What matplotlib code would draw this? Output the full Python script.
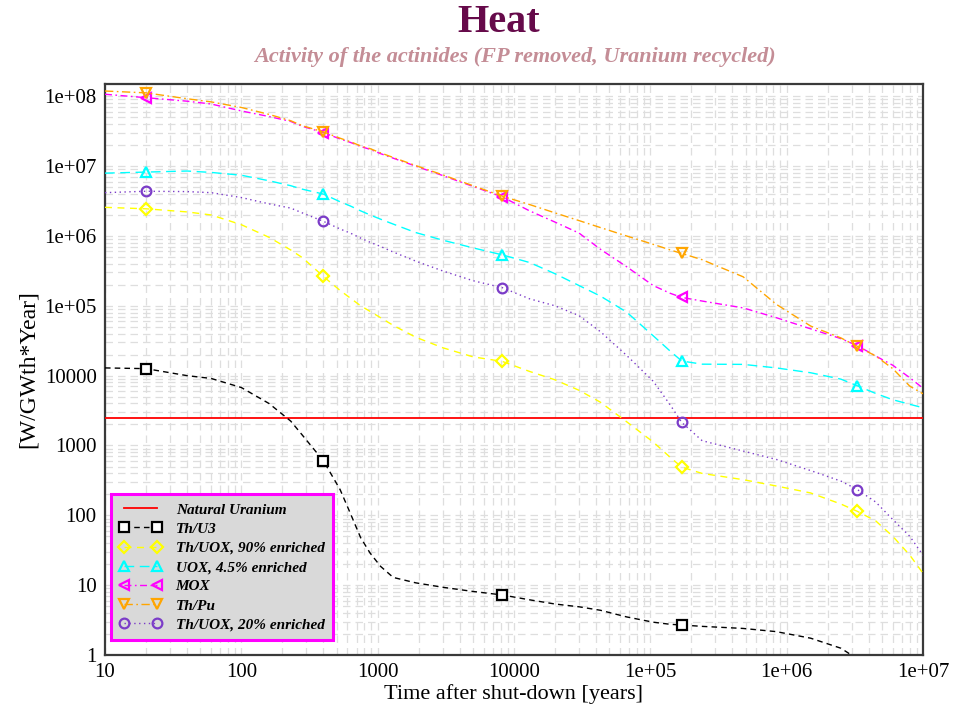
import numpy as np
import matplotlib
matplotlib.use("Agg")
import matplotlib.pyplot as plt
from matplotlib.ticker import FixedLocator, FixedFormatter, LogLocator, NullFormatter

plt.rcParams['font.family'] = ['Liberation Serif', 'DejaVu Serif']

# ---------------- data ----------------
times = [10, 20, 40, 60, 100, 160, 230, 280, 400, 530, 630, 750, 880, 1050, 1300,
         1900, 3000, 5000, 8200, 13000, 20000, 30000, 43000, 67000, 105000, 140000,
         170000, 240000, 480000, 840000, 1.5e6, 2.5e6, 3.3e6, 4.5e6, 6e6, 8e6, 1e7]

natural_uranium = 2500

th_u3 = [12900, 12600, 10000, 9120, 6760, 3980, 2240, 1410, 603, 234, 107, 47.9, 28.8,
         18.6, 12.9, 10.8, 9.33, 8.13, 7.24, 6.17, 5.37, 4.90, 4.37, 3.51, 2.95, 2.75,
         2.69, 2.57, 2.40, 2.16, 1.74, 1.25, 0.88, 0.50, np.nan, np.nan, np.nan]

th_uox_90 = [2.57e6, 2.45e6, 2.21e6, 2.0e6, 1.45e6, 9.55e5, 6.31e5, 4.90e5, 2.63e5,
             1.66e5, 1.29e5, 1.0e5, 8.32e4, 6.76e4, 5.25e4, 3.55e4, 2.51e4, 1.86e4,
             1.60e4, 1.15e4, 8710, 6170, 4170, 2190, 1120, 676, 490, 398, 324, 263,
             209, 145, 114, 83.2, 50.1, 26.9, 14.8]

uox_45 = [7.94e6, 8.22e6, 8.51e6, 8.13e6, 7.41e6, 6.17e6, 5.25e6, 4.68e6, 3.98e6,
          3.09e6, 2.69e6, 2.29e6, 2.0e6, 1.74e6, 1.48e6, 1.12e6, 8.71e5, 6.76e5,
          5.37e5, 4.17e5, 2.88e5, 1.95e5, 1.38e5, 8.13e4, 3.72e4, 2.24e4, 1.62e4,
          1.46e4, 1.45e4, 1.29e4, 1.10e4, 8910, 7160, 5560, 4520, 3890, 3470]

mox = [1.07e8, 9.55e7, 8.51e7, 7.76e7, 6.17e7, 5.13e7, 4.37e7, 3.72e7, 3.02e7,
       2.45e7, 2.19e7, 1.91e7, 1.74e7, 1.51e7, 1.30e7, 1.0e7, 7.33e6, 5.13e6,
       3.63e6, 2.29e6, 1.58e6, 1.10e6, 6.46e5, 3.63e5, 1.95e5, 1.51e5, 1.32e5,
       1.17e5, 9.33e4, 6.76e4, 4.68e4, 3.39e4, 2.69e4, 1.91e4, 1.41e4, 9330, 6610]

th_pu = [1.19e8, 1.12e8, 9.23e7, 8.32e7, 6.92e7, 5.50e7, 4.47e7, 3.80e7, 3.09e7,
         2.51e7, 2.24e7, 1.95e7, 1.78e7, 1.55e7, 1.33e7, 1.02e7, 7.50e6, 5.25e6,
         3.72e6, 2.82e6, 2.14e6, 1.66e6, 1.32e6, 1.0e6, 7.59e5, 6.31e5, 5.62e5,
         4.57e5, 2.60e5, 1.05e5, 5.13e4, 3.47e4, 2.63e4, 1.91e4, 1.26e4, 7080, 5500]

th_uox_20 = [4.17e6, 4.37e6, 4.32e6, 4.17e6, 3.55e6, 2.88e6, 2.51e6, 2.14e6, 1.62e6,
             1.26e6, 1.10e6, 9.33e5, 8.13e5, 7.08e5, 5.89e5, 4.37e5, 3.16e5, 2.29e5,
             1.82e5, 1.26e5, 1.0e5, 7.24e4, 4.27e4, 1.95e4, 8320, 3800, 2140, 1170,
             832, 631, 437, 309, 234, 155, 87.1, 50.1, 26.9]

marker_times = [20, 400, 8200, 170000, 3.3e6]

x_ticks = [10, 100, 1000, 10000, 1e5, 1e6, 1e7]
x_tick_labels = ['10', '100', '1000', '10000', '1e+05', '1e+06', '1e+07']
y_ticks = [1, 10, 100, 1000, 10000, 1e5, 1e6, 1e7, 1e8]
y_tick_labels = ['1', '10', '100', '1000', '10000', '1e+05', '1e+06', '1e+07', '1e+08']

labels = ['Natural Uranium', 'Th/U3', 'Th/UOX, 90% enriched', 'UOX, 4.5% enriched',
          'MOX', 'Th/Pu', 'Th/UOX, 20% enriched']

# ---------------- figure ----------------
fig = plt.figure(figsize=(9.57, 7.15), dpi=100)
ax = fig.add_axes([105/957, 60/715, 818/957, 571/715])

ax.plot([times[0], times[-1]], [natural_uranium, natural_uranium], color='#ff0000',
        lw=1.3, label=labels[0], zorder=3)

series = [
    (th_u3, '#000000', dict(dashes=[4, 3]), 's', labels[1]),
    (th_uox_90, '#ffff00', dict(dashes=[5, 4]), 'D', labels[2]),
    (uox_45, '#00ffff', dict(dashes=[7, 4]), '^', labels[3]),
    (mox, '#ff00ff', dict(dashes=[5, 2.5, 1.2, 2.5]), '<', labels[4]),
    (th_pu, '#ffa500', dict(dashes=[6, 2.5, 1.2, 2.5]), 'v', labels[5]),
    (th_uox_20, '#7b3cc8', dict(dashes=[1, 2.5]), 'o', labels[6]),
]

for vals, col, ls, mk, lab in series:
    idx = [times.index(t) for t in marker_times if vals[times.index(t)] >= 1]
    ms = 7 if mk != 'D' else 6
    mfc = 'white' if mk == 's' else 'none'
    ax.plot(times, vals, color=col, lw=1.0, marker=mk, markevery=idx,
            markersize=ms, markerfacecolor=mfc, markeredgecolor=col,
            markeredgewidth=1.6, label=lab, zorder=4, **ls)

ax.set_xscale('log')
ax.set_yscale('log')
ax.set_xlim(10, 1e7)
ax.set_ylim(1, 1.5e8)

ax.xaxis.set_major_locator(FixedLocator(x_ticks))
ax.xaxis.set_major_formatter(FixedFormatter(x_tick_labels))
ax.yaxis.set_major_locator(FixedLocator(y_ticks))
ax.yaxis.set_major_formatter(FixedFormatter(y_tick_labels))
ax.xaxis.set_minor_locator(LogLocator(base=10, subs=np.arange(2, 10), numticks=20))
ax.yaxis.set_minor_locator(LogLocator(base=10, subs=np.arange(2, 10), numticks=20))
ax.xaxis.set_minor_formatter(NullFormatter())
ax.yaxis.set_minor_formatter(NullFormatter())

ax.tick_params(which='both', length=0, labelsize=15, pad=6)
ax.grid(True, which='both', color='#dedede', linestyle=(0, (6, 4)), lw=0.9)
ax.set_axisbelow(True)

for sp in ax.spines.values():
    sp.set_color('#3a3a3a')
    sp.set_linewidth(1.6)

ax.set_xlabel('Time after shut-down [years]', fontsize=16, labelpad=1)
ax.set_ylabel('[W/GWth*Year]', fontsize=17, labelpad=4)

fig.text(499/957, 1 - 22/715, 'Heat', ha='center', va='center', fontsize=29,
         fontweight='bold', color='#660a4a')
fig.text(515/957, 1 - 57/715, 'Activity of the actinides (FP removed, Uranium recycled)',
         ha='center', va='center', fontsize=16, fontweight='bold', style='italic',
         color='#c48d96')

leg = ax.legend(loc='lower left', bbox_to_anchor=(0.007, 0.026), borderaxespad=0,
                numpoints=2, handlelength=2.8, handletextpad=0.9, labelspacing=0.36,
                borderpad=0.55, fancybox=False, framealpha=1,
                prop=dict(family='Liberation Serif', weight='bold', style='italic', size=11))
leg.get_frame().set_facecolor('#d9d9d9')
leg.get_frame().set_edgecolor('#ff00ff')
leg.get_frame().set_linewidth(2.2)
leg.set_zorder(6)

fig.savefig('out.png', dpi=100)
